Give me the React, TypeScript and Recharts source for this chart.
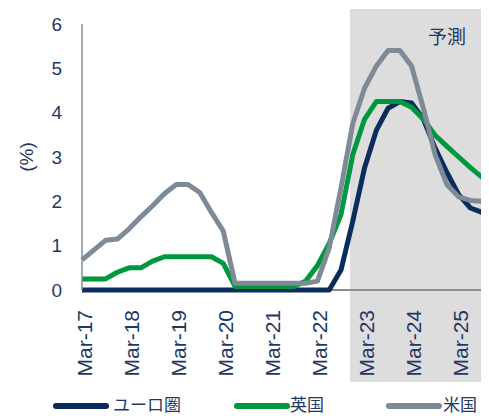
import React from 'react';
import { LineChart, Line, XAxis, YAxis, ReferenceArea, ReferenceDot, Legend } from 'recharts';

const QUARTERS = [
  'Mar-17', 'Jun-17', 'Sep-17', 'Dec-17',
  'Mar-18', 'Jun-18', 'Sep-18', 'Dec-18',
  'Mar-19', 'Jun-19', 'Sep-19', 'Dec-19',
  'Mar-20', 'Jun-20', 'Sep-20', 'Dec-20',
  'Mar-21', 'Jun-21', 'Sep-21', 'Dec-21',
  'Mar-22', 'Jun-22', 'Sep-22', 'Dec-22',
  'Mar-23', 'Jun-23', 'Sep-23', 'Dec-23',
  'Mar-24', 'Jun-24', 'Sep-24', 'Dec-24',
  'Mar-25', 'Jun-25', 'Sep-25', 'Dec-25',
];

const EURO = [
  0, 0, 0, 0, 0, 0, 0, 0, 0, 0, 0, 0, 0, 0, 0, 0, 0, 0, 0, 0, 0, 0,
  0.45, 1.55, 2.75, 3.6, 4.1, 4.25, 4.22, 3.85, 3.2, 2.65, 2.15, 1.85, 1.75, 1.75,
];

const UK = [
  0.25, 0.25, 0.25, 0.4, 0.5, 0.5, 0.65, 0.75, 0.75, 0.75, 0.75, 0.75, 0.6,
  0.08, 0.08, 0.08, 0.08, 0.08, 0.08, 0.2, 0.55, 1.05, 1.7, 3.05, 3.85,
  4.25, 4.25, 4.25, 4.12, 3.85, 3.49, 3.24, 3.0, 2.76, 2.54, 2.32,
];

const US = [
  0.68, 0.9, 1.12, 1.15, 1.38, 1.65, 1.9, 2.17, 2.38, 2.38, 2.2, 1.75, 1.33,
  0.15, 0.15, 0.15, 0.15, 0.15, 0.15, 0.15, 0.2,
  0.95, 2.3, 3.75, 4.55, 5.05, 5.4, 5.4, 5.05, 4.1, 3.05, 2.38, 2.1, 2.02, 2.0, 2.0,
];

const Y_TICKS = [0, 1, 2, 3, 4, 5, 6];
const X_TICKS = [0, 4, 8, 12, 16, 20, 24, 28, 32];
const X_MAX = 35;
const FORECAST_START = 22.77;
const FORECAST_LABEL = '予測';
const FORECAST_LABEL_X = 31.0;
const FORECAST_LABEL_Y = 5.71;
const Y_LABEL = '(%)';

const SERIES = [
  { key: 'euro', name: 'ユーロ圏', color: '#0B2C5C', lineX: 45, textX: 105 },
  { key: 'uk', name: '英国', color: '#00983F', lineX: 226, textX: 282 },
  { key: 'us', name: '米国', color: '#7E8A95', lineX: 378, textX: 435 },
];

const TEXT = '#1F3864';
const AXIS = '#838E98';
const LATIN = '"Liberation Sans", Arial, sans-serif';
const CJK = '"Noto Sans CJK JP", "Noto Sans", sans-serif';

const data = QUARTERS.map((q, i) => ({ idx: i, q, euro: EURO[i], uk: UK[i], us: US[i] }));

const XTick = (props: any) => {
  const { x, y, payload } = props;
  return (
    <g transform={`translate(${x},${y})`}>
      <text
        transform="rotate(-90)"
        x={-20}
        y={9.5}
        textAnchor="end"
        fill={TEXT}
        fontSize={21}
        fontFamily={LATIN}
      >
        {QUARTERS[payload.value]}
      </text>
    </g>
  );
};

const ShadeShape = (props: any) => {
  const { x, y, width, height } = props;
  return <rect x={x} y={y - 15} width={width} height={height + 15 + 92} fill="#DDDDDD" />;
};

const BaselineShape = (props: any) => {
  const { x, y, width, height } = props;
  const by = y + height;
  return <line x1={x} y1={by} x2={x + width} y2={by} stroke={AXIS} strokeWidth={2} />;
};

const YLabel = (props: any) => {
  const { viewBox } = props;
  const cy = viewBox.y + viewBox.height / 2;
  const cx = 18;
  return (
    <text
      x={cx}
      y={cy}
      transform={`rotate(-90, ${cx}, ${cy})`}
      textAnchor="middle"
      dominantBaseline="central"
      fill={TEXT}
      fontSize={19}
      fontFamily={LATIN}
    >
      {Y_LABEL}
    </text>
  );
};

const LegendContent = () => (
  <div style={{ position: 'relative', width: 481, height: 26 }}>
    {SERIES.map((s) => (
      <React.Fragment key={s.key}>
        <div
          style={{
            position: 'absolute',
            left: s.lineX,
            top: 13.2,
            width: 56,
            height: 6,
            borderRadius: 3,
            background: s.color,
          }}
        />
        <span
          style={{
            position: 'absolute',
            left: s.textX,
            top: 5,
            fontSize: 17,
            lineHeight: '17px',
            color: TEXT,
            fontFamily: CJK,
            whiteSpace: 'nowrap',
          }}
        >
          {s.name}
        </span>
      </React.Fragment>
    ))}
  </div>
);

export default function App() {
  return (
    <div style={{ width: 481, height: 408, overflow: 'hidden', fontFamily: LATIN }}>
      <LineChart width={486} height={408} data={data} margin={{ top: 16, right: 0, left: 0, bottom: 0 }}>
        <ReferenceArea
          x1={FORECAST_START}
          x2={X_MAX}
          y1={0}
          y2={6}
          shape={ShadeShape}
          ifOverflow="visible"
        />
        <ReferenceArea
          x1={0}
          x2={X_MAX}
          y1={0}
          y2={6}
          shape={BaselineShape}
          ifOverflow="visible"
        />
        <XAxis
          type="number"
          dataKey="idx"
          domain={[0, X_MAX]}
          ticks={X_TICKS}
          interval={0}
          tick={<XTick />}
          tickLine={false}
          tickSize={0}
          tickMargin={0}
          axisLine={false}
          height={100}
        />
        <YAxis
          domain={[0, 6]}
          ticks={Y_TICKS}
          interval={0}
          width={74}
          tickLine={false}
          tickSize={0}
          tickMargin={20}
          axisLine={{ stroke: AXIS, strokeWidth: 1.5 }}
          tick={{ fill: TEXT, fontSize: 19, fontFamily: LATIN }}
          label={<YLabel />}
        />
        {SERIES.map((s) => (
          <Line
            key={s.key}
            type="linear"
            dataKey={s.key}
            name={s.name}
            stroke={s.color}
            strokeWidth={5}
            strokeLinejoin="round"
            dot={false}
            activeDot={false}
            isAnimationActive={false}
          />
        ))}
        <ReferenceDot
          x={FORECAST_LABEL_X}
          y={FORECAST_LABEL_Y}
          r={0}
          fill="none"
          stroke="none"
          label={{ value: FORECAST_LABEL, position: 'center', fill: TEXT, fontSize: 19, fontFamily: CJK }}
        />
        <Legend
          verticalAlign="bottom"
          content={<LegendContent />}
          wrapperStyle={{ left: 0, width: 481, height: 26 }}
        />
      </LineChart>
    </div>
  );
}
